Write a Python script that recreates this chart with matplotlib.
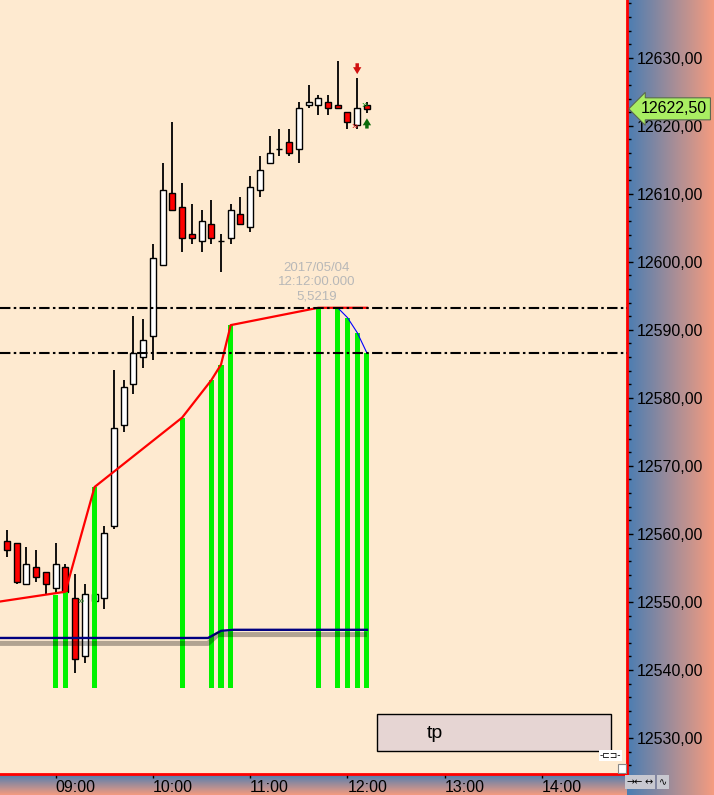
import numpy as np
import pandas as pd
import matplotlib
matplotlib.use('Agg')
import matplotlib.pyplot as plt
import matplotlib.dates as mdates
import matplotlib.transforms as mtrans
from matplotlib.patches import Rectangle
from matplotlib.ticker import FuncFormatter, MultipleLocator

plt.rcParams['font.family'] = ['Liberation Sans', 'DejaVu Sans']

# 6 minuten kerzen 2017-05-04
day = '2017-05-04 '
opens = [12559.0, 12558.7, 12552.65, 12555.15, 12554.4, 12552.05, 12555.15, 12550.6, 12542.05, 12550.15,
         12550.6, 12561.2, 12576.05, 12582.05, 12586.05, 12589.1, 12599.55, 12610.15, 12608.1, 12604.1,
         12603.1, 12605.6, 12603.1, 12603.55, 12607.05, 12605.15, 12610.6, 12614.55, 12616.6, 12617.65,
         12616.6, 12623.1, 12623.1, 12623.55, 12623.1, 12622.05, 12620.15, 12623.1]
highs = [12560.6, 12558.7, 12558.1, 12557.65, 12554.4, 12558.7, 12555.6, 12554.1, 12552.65, 12551.75,
         12561.2, 12584.1, 12582.65, 12592.05, 12591.6, 12602.65, 12614.55, 12620.6, 12611.6, 12608.55,
         12607.65, 12609.1, 12604.1, 12608.55, 12609.55, 12612.65, 12615.6, 12618.55, 12619.55, 12619.55,
         12623.55, 12626.05, 12624.55, 12624.55, 12629.55, 12622.05, 12627.05, 12623.55]
lows = [12556.6, 12552.65, 12552.65, 12552.9, 12551.2, 12551.3, 12551.5, 12539.55, 12541.05, 12549.4,
        12549.0, 12560.75, 12575.0, 12580.6, 12584.4, 12585.6, 12599.55, 12607.65, 12601.5, 12602.65,
        12601.5, 12602.65, 12598.55, 12602.65, 12605.6, 12604.4, 12609.55, 12614.55, 12615.6, 12615.6,
        12614.55, 12622.65, 12621.6, 12621.6, 12622.65, 12619.55, 12619.55, 12621.9]
closes = [12557.65, 12552.9, 12555.6, 12553.7, 12552.65, 12555.6, 12551.5, 12541.6, 12551.2, 12551.2,
          12560.15, 12575.6, 12581.6, 12586.6, 12588.55, 12600.6, 12610.6, 12607.65, 12603.55, 12603.55,
          12606.05, 12603.55, 12603.1, 12607.65, 12605.6, 12611.05, 12613.55, 12616.05, 12616.6, 12616.05,
          12622.65, 12623.55, 12624.1, 12622.65, 12622.65, 12620.6, 12622.65, 12622.5]

# signal balken (gruen)
sig_times = ['09:00', '09:06', '09:24', '10:18', '10:36', '10:42', '10:48', '11:42', '11:54', '12:00', '12:06', '12:12']
sig_tops = [12551.0, 12551.5, 12566.9, 12577.1, 12582.6, 12584.9, 12590.7, 12593.25, 12593.25, 12591.8, 12589.6, 12586.6]
sig_base = 12537.35

# trailing linie rot / blau
red_times = ['08:24', '09:06', '09:24', '10:18', '10:36', '10:42', '10:48', '11:42', '12:12']
red_vals = [12550.0, 12551.5, 12566.9, 12577.1, 12582.6, 12584.9, 12590.7, 12593.25, 12593.25]
blue_times = ['11:54', '12:00', '12:06', '12:12']
blue_vals = [12593.25, 12591.8, 12589.6, 12586.6]

# gleitende linien unten
navy_times = ['08:24', '10:34', '10:42', '10:50', '12:12']
navy_vals = [12544.7, 12544.7, 12545.75, 12545.9, 12545.9]
gray_times = ['08:24', '10:34', '10:40', '12:12']
gray_vals = [12543.9, 12543.9, 12545.2, 12545.2]

levels = [12593.25, 12586.6]
last_price = 12622.50
info_text = '2017/05/04\n12:12:00.000\n5,5219'
info_time, info_price = '11:41', 12597.0

# pfeile (zeit, von, bis)
sell_arrow = ('12:06', 12629.2, 12627.6)
buy_arrow = ('12:12', 12619.6, 12621.1)

def tm(lst):
    return mdates.date2num(pd.to_datetime([day + s for s in lst]))

W, H = 714, 795
bg = '#FEEAD0'
fig = plt.figure(figsize=(W / 100, H / 100), dpi=100)

# farbverlauf rechts und unten
g = np.linspace(0, 1, 256)[:, None]
c1 = np.array([0.29, 0.49, 0.70])
c2 = np.array([0.96, 0.61, 0.50])
grad = c1 * (1 - g) + c2 * g
ax_r = fig.add_axes([627 / W, 0, 1 - 627 / W, 1])
ax_r.imshow(grad[None, :, :], aspect='auto', extent=[0, 1, 0, 1])
ax_r.axis('off')
ax_b = fig.add_axes([0, 0, 627 / W, 21 / H])
ax_b.imshow(grad[:, None, :], aspect='auto', extent=[0, 1, 0, 1])
ax_b.axis('off')

ax = fig.add_axes([0, 21 / H, 627 / W, 774 / H])
ax.set_facecolor(bg)

times = mdates.date2num(pd.date_range(day + '08:30', periods=len(opens), freq='6min').to_pydatetime())
slot = 6 / 1440.0
o = np.array(opens); c = np.array(closes)
up = c >= o
ax.vlines(times, lows, highs, color='black', lw=1.3, zorder=2)
ax.bar(times[up], c[up] - o[up], bottom=o[up], width=slot * 0.62, color='white', edgecolor='black', lw=1.0, zorder=3)
ax.bar(times[~up], o[~up] - c[~up], bottom=c[~up], width=slot * 0.62, color='#FF0000', edgecolor='black', lw=1.0, zorder=3)

ax.bar(tm(sig_times), np.array(sig_tops) - sig_base, bottom=sig_base, width=slot * 0.52, color='#00F200', zorder=4)

ax.plot(tm(navy_times), navy_vals, color='#000080', lw=1.7, zorder=5)
ax.plot(tm(gray_times), gray_vals, color='black', alpha=0.3, lw=3.6, zorder=6, solid_capstyle='butt')
ax.plot(tm(red_times), red_vals, color='#FF0000', lw=1.6, zorder=7)
ax.plot(tm(blue_times), blue_vals, color='#0000FF', lw=0.8, zorder=7)
for lv in levels:
    ax.axhline(lv, color='black', lw=1.5, dashes=[5, 1.6, 1.2, 1.6], zorder=8)

ax.text(tm([info_time])[0], info_price, info_text, ha='center', va='center', fontsize=9.5,
        color='#B8B8B8', linespacing=1.2, zorder=9)

# pfeile und marker
arrow = 'simple,head_width=0.6,head_length=0.5,tail_width=0.25'
for (at, y0, y1), col in [(sell_arrow, '#D01010'), (buy_arrow, '#0A6A0A')]:
    xa = tm([at])[0]
    ax.annotate('', xy=(xa, y1), xytext=(xa, y0),
                arrowprops=dict(arrowstyle=arrow, mutation_scale=10, color=col, lw=0,
                                shrinkA=0, shrinkB=0), zorder=9)
t = tm(['09:12', '12:00', '12:06'])
ax.annotate('»', xy=(t[1], 12620.0), xytext=(3, 0), textcoords='offset points', color='#E02020',
            fontsize=8, va='center', zorder=9)
ax.annotate('»', xy=(t[2], 12623.1), xytext=(3, 0), textcoords='offset points', color='#1A9A1A',
            fontsize=8, va='center', zorder=9)
ax.annotate('»', xy=(t[0], 12550.1), xytext=(2, 0), textcoords='offset points', color='#1A7A1A',
            fontsize=8, va='center', zorder=9)

# achsen
ax.set_xlim(mdates.date2num(pd.Timestamp(day + '08:25:40')), mdates.date2num(pd.Timestamp(day + '14:52:25')))
ax.set_ylim(12524.7, 12638.5)
ax.yaxis.tick_right()
ax.yaxis.set_major_locator(MultipleLocator(10))
ax.yaxis.set_minor_locator(MultipleLocator(2))
ax.yaxis.set_major_formatter(FuncFormatter(lambda v, p: f'{v:.2f}'.replace('.', ',')))
ax.tick_params(axis='y', which='major', length=4, width=1, pad=3, labelsize=11.5, colors='black')
ax.tick_params(axis='y', which='minor', length=3, width=1)
ax.xaxis.set_major_locator(mdates.HourLocator())
ax.xaxis.set_major_formatter(mdates.DateFormatter('%H:%M'))
ax.tick_params(axis='x', length=3, width=1, pad=1.5, labelsize=11.5)
for lab in ax.get_xticklabels():
    lab.set_horizontalalignment('left')
for s in ['left', 'top']:
    ax.spines[s].set_visible(False)
for s in ['right', 'bottom']:
    ax.spines[s].set_color('#FF0000')
    ax.spines[s].set_linewidth(2)

# kurs-etikett
trans = mtrans.blended_transform_factory(ax.transAxes, ax.transData)
ax.text(1.022, last_price, f'{last_price:.2f}'.replace('.', ','), transform=trans, ha='left', va='center',
        fontsize=11.5, zorder=10, clip_on=False,
        bbox=dict(boxstyle='larrow,pad=0.22', fc='#A9EE62', ec='#5A6A50', lw=0.8))

# tp knopf
ax.add_patch(Rectangle((0.601, 0.0297), 0.373, 0.0478, transform=ax.transAxes, fc='#E6D5D3',
                       ec='black', lw=1, zorder=10))
ax.text(0.694, 0.0525, 'tp', transform=ax.transAxes, ha='center', va='center', fontsize=14, zorder=11)
ax.text(0.973, 0.024, '-⊏⊐-', transform=ax.transAxes, ha='center', va='center', fontsize=6.5,
        family='DejaVu Sans', zorder=11, bbox=dict(fc='white', ec='none', pad=0.5))
ax.add_patch(Rectangle((0.986, 0.001), 0.013, 0.012, transform=ax.transAxes, fc='white',
                       ec='#888888', lw=0.8, zorder=11))

# kleine schaltflaechen unten rechts
for i, sym in enumerate(['→←', '↔', '∿']):
    fig.text((635 + i * 14) / W, 1 - 782 / H, sym, ha='center', va='center', fontsize=7,
             family=['DejaVu Sans'], bbox=dict(fc='#C8C8D0', ec='none', pad=1.5))

fig.savefig('out.png', dpi=100, facecolor=bg)
